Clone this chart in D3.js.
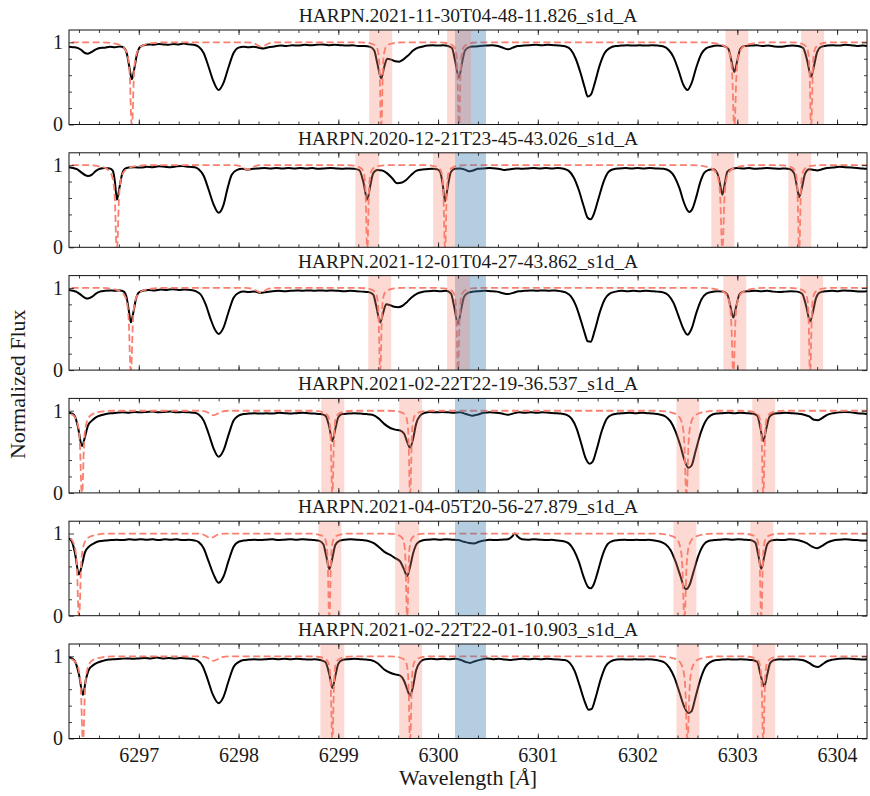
<!DOCTYPE html>
<html>
<head>
<meta charset="utf-8">
<script src="https://cdn.jsdelivr.net/npm/d3@7"></script>
<style>
  body { margin: 0; background: #fff; }
  svg text { font-family: "Liberation Serif", "DejaVu Serif", serif; fill: #1a1a1a; }
</style>
</head>
<body>
<svg id="chart" width="870" height="796"></svg>
<script>
// --- data ---
const titles = [
  "HARPN.2021-11-30T04-48-11.826_s1d_A",
  "HARPN.2020-12-21T23-45-43.026_s1d_A",
  "HARPN.2021-12-01T04-27-43.862_s1d_A",
  "HARPN.2021-02-22T22-19-36.537_s1d_A",
  "HARPN.2021-04-05T20-56-27.879_s1d_A",
  "HARPN.2021-02-22T22-01-10.903_s1d_A"
];

// observed spectra [wavelength, flux]
const spec1 = [[6296.30,0.945],[6296.34,0.94],[6296.38,0.935],[6296.42,0.91],[6296.46,0.87],[6296.49,0.862],[6296.53,0.885],[6296.57,0.915],[6296.61,0.93],[6296.66,0.935],[6296.71,0.945],[6296.76,0.94],[6296.81,0.95],[6296.85,0.935],[6296.88,0.86],[6296.905,0.7],[6296.93,0.55],[6296.955,0.68],[6296.98,0.85],[6297.01,0.94],[6297.05,0.965],[6297.1,0.975],[6297.15,0.97],[6297.2,0.98],[6297.25,0.975],[6297.3,0.97],[6297.35,0.98],[6297.4,0.975],[6297.45,0.985],[6297.5,0.975],[6297.55,0.97],[6297.6,0.945],[6297.65,0.87],[6297.7,0.7],[6297.75,0.52],[6297.8,0.42],[6297.85,0.51],[6297.9,0.7],[6297.95,0.87],[6298.0,0.935],[6298.05,0.945],[6298.1,0.94],[6298.15,0.945],[6298.2,0.935],[6298.25,0.925],[6298.3,0.94],[6298.36,0.95],[6298.42,0.96],[6298.48,0.955],[6298.54,0.965],[6298.6,0.96],[6298.66,0.97],[6298.72,0.965],[6298.78,0.97],[6298.84,0.975],[6298.9,0.965],[6298.96,0.97],[6299.02,0.965],[6299.08,0.96],[6299.14,0.965],[6299.2,0.955],[6299.26,0.955],[6299.32,0.945],[6299.36,0.9],[6299.39,0.75],[6299.43,0.56],[6299.46,0.7],[6299.49,0.8],[6299.53,0.79],[6299.57,0.77],[6299.61,0.765],[6299.65,0.79],[6299.7,0.84],[6299.75,0.9],[6299.8,0.935],[6299.85,0.95],[6299.9,0.96],[6299.95,0.965],[6300.0,0.96],[6300.05,0.965],[6300.1,0.955],[6300.14,0.93],[6300.17,0.78],[6300.21,0.57],[6300.24,0.75],[6300.27,0.9],[6300.31,0.94],[6300.36,0.95],[6300.42,0.955],[6300.48,0.96],[6300.54,0.965],[6300.6,0.955],[6300.66,0.93],[6300.7,0.915],[6300.75,0.935],[6300.8,0.955],[6300.86,0.96],[6300.92,0.965],[6300.98,0.97],[6301.04,0.965],[6301.1,0.97],[6301.16,0.965],[6301.22,0.96],[6301.28,0.95],[6301.33,0.91],[6301.38,0.8],[6301.43,0.62],[6301.47,0.45],[6301.5,0.34],[6301.53,0.36],[6301.57,0.5],[6301.62,0.72],[6301.67,0.87],[6301.72,0.93],[6301.78,0.955],[6301.84,0.96],[6301.9,0.965],[6301.96,0.96],[6302.02,0.965],[6302.08,0.96],[6302.14,0.965],[6302.2,0.96],[6302.26,0.95],[6302.31,0.91],[6302.36,0.82],[6302.41,0.66],[6302.46,0.48],[6302.5,0.42],[6302.54,0.5],[6302.59,0.7],[6302.64,0.86],[6302.69,0.93],[6302.74,0.95],[6302.8,0.96],[6302.86,0.955],[6302.91,0.92],[6302.94,0.78],[6302.97,0.64],[6303.0,0.78],[6303.03,0.92],[6303.07,0.955],[6303.13,0.96],[6303.19,0.965],[6303.25,0.955],[6303.31,0.96],[6303.37,0.95],[6303.43,0.945],[6303.49,0.955],[6303.55,0.96],[6303.61,0.955],[6303.66,0.93],[6303.7,0.78],[6303.74,0.58],[6303.77,0.72],[6303.8,0.88],[6303.84,0.945],[6303.9,0.96],[6303.96,0.965],[6304.02,0.96],[6304.08,0.97],[6304.14,0.965],[6304.2,0.955],[6304.26,0.96],[6304.3,0.955]];

const spec2 = [[6296.30,0.975],[6296.34,0.965],[6296.38,0.95],[6296.42,0.915],[6296.46,0.88],[6296.49,0.868],[6296.53,0.885],[6296.57,0.93],[6296.61,0.955],[6296.66,0.965],[6296.71,0.96],[6296.74,0.93],[6296.76,0.8],[6296.78,0.58],[6296.805,0.72],[6296.83,0.88],[6296.86,0.955],[6296.9,0.97],[6296.96,0.975],[6297.02,0.97],[6297.08,0.98],[6297.14,0.975],[6297.2,0.985],[6297.26,0.98],[6297.32,0.975],[6297.38,0.985],[6297.44,0.99],[6297.5,0.98],[6297.56,0.975],[6297.6,0.95],[6297.65,0.87],[6297.7,0.7],[6297.75,0.52],[6297.8,0.42],[6297.85,0.52],[6297.89,0.72],[6297.93,0.88],[6297.98,0.94],[6298.04,0.955],[6298.09,0.945],[6298.14,0.955],[6298.2,0.96],[6298.26,0.965],[6298.32,0.96],[6298.38,0.965],[6298.44,0.96],[6298.5,0.965],[6298.56,0.96],[6298.62,0.965],[6298.68,0.96],[6298.74,0.965],[6298.8,0.955],[6298.86,0.96],[6298.92,0.965],[6298.98,0.96],[6299.04,0.955],[6299.1,0.96],[6299.16,0.955],[6299.21,0.94],[6299.25,0.8],[6299.29,0.58],[6299.32,0.75],[6299.35,0.9],[6299.39,0.94],[6299.44,0.935],[6299.49,0.9],[6299.54,0.84],[6299.59,0.78],[6299.63,0.785],[6299.68,0.82],[6299.73,0.88],[6299.78,0.93],[6299.83,0.945],[6299.88,0.95],[6299.94,0.955],[6299.99,0.95],[6300.02,0.92],[6300.045,0.78],[6300.07,0.56],[6300.1,0.76],[6300.13,0.92],[6300.17,0.955],[6300.22,0.96],[6300.27,0.945],[6300.31,0.925],[6300.35,0.935],[6300.4,0.955],[6300.46,0.96],[6300.52,0.965],[6300.58,0.96],[6300.63,0.95],[6300.67,0.94],[6300.72,0.95],[6300.78,0.96],[6300.84,0.955],[6300.9,0.96],[6300.96,0.965],[6301.02,0.96],[6301.08,0.965],[6301.14,0.96],[6301.2,0.965],[6301.26,0.955],[6301.31,0.93],[6301.36,0.85],[6301.41,0.7],[6301.46,0.5],[6301.5,0.36],[6301.53,0.34],[6301.56,0.4],[6301.61,0.6],[6301.66,0.8],[6301.71,0.92],[6301.76,0.95],[6301.82,0.96],[6301.88,0.965],[6301.94,0.96],[6302.0,0.965],[6302.06,0.96],[6302.12,0.965],[6302.18,0.96],[6302.26,0.955],[6302.32,0.93],[6302.37,0.86],[6302.42,0.72],[6302.46,0.56],[6302.5,0.45],[6302.52,0.43],[6302.55,0.47],[6302.59,0.62],[6302.63,0.8],[6302.67,0.91],[6302.71,0.94],[6302.76,0.95],[6302.8,0.9],[6302.825,0.78],[6302.85,0.64],[6302.875,0.78],[6302.9,0.92],[6302.95,0.955],[6303.0,0.965],[6303.06,0.96],[6303.12,0.965],[6303.18,0.955],[6303.24,0.96],[6303.3,0.965],[6303.36,0.96],[6303.42,0.955],[6303.48,0.96],[6303.53,0.95],[6303.57,0.9],[6303.6,0.72],[6303.62,0.61],[6303.65,0.74],[6303.68,0.9],[6303.72,0.95],[6303.76,0.945],[6303.8,0.935],[6303.85,0.95],[6303.9,0.965],[6303.96,0.97],[6304.02,0.98],[6304.08,0.975],[6304.14,0.97],[6304.2,0.965],[6304.26,0.96],[6304.3,0.955]];

const spec3 = [[6296.30,0.975],[6296.34,0.965],[6296.38,0.95],[6296.42,0.915],[6296.46,0.88],[6296.49,0.87],[6296.53,0.89],[6296.57,0.93],[6296.61,0.955],[6296.66,0.965],[6296.71,0.97],[6296.76,0.965],[6296.81,0.97],[6296.85,0.955],[6296.88,0.87],[6296.9,0.72],[6296.92,0.58],[6296.945,0.7],[6296.97,0.86],[6297.0,0.945],[6297.05,0.97],[6297.1,0.975],[6297.16,0.97],[6297.22,0.98],[6297.28,0.975],[6297.34,0.985],[6297.4,0.975],[6297.46,0.98],[6297.52,0.975],[6297.57,0.96],[6297.62,0.92],[6297.67,0.8],[6297.72,0.62],[6297.76,0.5],[6297.8,0.44],[6297.85,0.52],[6297.9,0.71],[6297.95,0.88],[6298.0,0.94],[6298.05,0.955],[6298.1,0.95],[6298.16,0.955],[6298.22,0.94],[6298.28,0.95],[6298.34,0.96],[6298.4,0.965],[6298.46,0.96],[6298.52,0.965],[6298.58,0.97],[6298.64,0.965],[6298.7,0.97],[6298.76,0.965],[6298.82,0.97],[6298.88,0.965],[6298.94,0.97],[6299.0,0.965],[6299.06,0.96],[6299.12,0.965],[6299.18,0.96],[6299.24,0.955],[6299.3,0.95],[6299.35,0.92],[6299.38,0.78],[6299.42,0.58],[6299.45,0.7],[6299.48,0.8],[6299.52,0.79],[6299.56,0.77],[6299.6,0.765],[6299.64,0.78],[6299.69,0.83],[6299.74,0.89],[6299.79,0.93],[6299.84,0.95],[6299.9,0.96],[6299.96,0.965],[6300.02,0.96],[6300.08,0.965],[6300.13,0.93],[6300.16,0.78],[6300.2,0.56],[6300.23,0.73],[6300.26,0.89],[6300.3,0.94],[6300.35,0.955],[6300.41,0.96],[6300.47,0.965],[6300.53,0.96],[6300.59,0.955],[6300.65,0.935],[6300.7,0.925],[6300.75,0.94],[6300.81,0.96],[6300.87,0.965],[6300.93,0.97],[6300.99,0.965],[6301.05,0.97],[6301.11,0.965],[6301.17,0.97],[6301.23,0.96],[6301.28,0.945],[6301.33,0.9],[6301.38,0.79],[6301.43,0.61],[6301.47,0.45],[6301.5,0.35],[6301.53,0.345],[6301.57,0.48],[6301.62,0.7],[6301.67,0.86],[6301.72,0.93],[6301.78,0.955],[6301.84,0.965],[6301.9,0.96],[6301.96,0.965],[6302.02,0.96],[6302.08,0.965],[6302.14,0.96],[6302.2,0.955],[6302.26,0.945],[6302.31,0.91],[6302.36,0.82],[6302.41,0.66],[6302.46,0.5],[6302.5,0.43],[6302.54,0.5],[6302.59,0.7],[6302.64,0.86],[6302.69,0.93],[6302.74,0.95],[6302.8,0.96],[6302.86,0.955],[6302.9,0.92],[6302.93,0.78],[6302.96,0.64],[6302.99,0.78],[6303.02,0.92],[6303.06,0.955],[6303.12,0.96],[6303.18,0.965],[6303.24,0.96],[6303.3,0.965],[6303.36,0.955],[6303.42,0.95],[6303.48,0.955],[6303.54,0.96],[6303.6,0.955],[6303.65,0.93],[6303.69,0.78],[6303.73,0.59],[6303.76,0.72],[6303.79,0.88],[6303.83,0.945],[6303.89,0.96],[6303.95,0.965],[6304.01,0.96],[6304.07,0.97],[6304.13,0.965],[6304.19,0.96],[6304.25,0.955],[6304.3,0.96]];

const spec4 = [[6296.30,0.975],[6296.33,0.965],[6296.36,0.93],[6296.39,0.8],[6296.43,0.57],[6296.46,0.68],[6296.49,0.82],[6296.53,0.88],[6296.57,0.92],[6296.62,0.945],[6296.67,0.96],[6296.72,0.97],[6296.78,0.975],[6296.84,0.98],[6296.9,0.975],[6296.96,0.985],[6297.02,0.98],[6297.08,0.985],[6297.14,0.99],[6297.2,0.98],[6297.26,0.985],[6297.32,0.99],[6297.38,0.98],[6297.44,0.985],[6297.5,0.98],[6297.56,0.975],[6297.6,0.955],[6297.65,0.88],[6297.7,0.72],[6297.75,0.54],[6297.8,0.44],[6297.85,0.52],[6297.9,0.71],[6297.95,0.88],[6298.0,0.94],[6298.05,0.96],[6298.1,0.965],[6298.16,0.97],[6298.22,0.965],[6298.28,0.97],[6298.34,0.965],[6298.4,0.975],[6298.46,0.97],[6298.52,0.965],[6298.58,0.97],[6298.64,0.975],[6298.7,0.97],[6298.76,0.965],[6298.82,0.96],[6298.87,0.94],[6298.91,0.8],[6298.94,0.63],[6298.97,0.78],[6299.0,0.92],[6299.04,0.96],[6299.1,0.965],[6299.16,0.97],[6299.22,0.965],[6299.28,0.96],[6299.34,0.95],[6299.4,0.91],[6299.46,0.84],[6299.52,0.79],[6299.57,0.77],[6299.62,0.76],[6299.66,0.72],[6299.69,0.62],[6299.72,0.55],[6299.75,0.66],[6299.78,0.84],[6299.82,0.94],[6299.87,0.975],[6299.92,0.985],[6299.98,0.98],[6300.04,0.985],[6300.1,0.98],[6300.16,0.975],[6300.22,0.98],[6300.28,0.96],[6300.34,0.94],[6300.4,0.955],[6300.46,0.975],[6300.52,0.98],[6300.58,0.975],[6300.64,0.965],[6300.7,0.95],[6300.75,0.965],[6300.81,0.98],[6300.87,0.975],[6300.93,0.98],[6300.99,0.975],[6301.05,0.98],[6301.11,0.975],[6301.17,0.97],[6301.23,0.965],[6301.29,0.95],[6301.34,0.9],[6301.39,0.78],[6301.44,0.58],[6301.48,0.42],[6301.52,0.355],[6301.55,0.38],[6301.59,0.53],[6301.64,0.75],[6301.69,0.9],[6301.74,0.95],[6301.8,0.965],[6301.86,0.97],[6301.92,0.975],[6301.98,0.97],[6302.04,0.975],[6302.1,0.97],[6302.16,0.965],[6302.22,0.955],[6302.28,0.93],[6302.33,0.87],[6302.38,0.75],[6302.43,0.57],[6302.47,0.4],[6302.51,0.305],[6302.54,0.33],[6302.58,0.5],[6302.63,0.72],[6302.68,0.87],[6302.73,0.94],[6302.79,0.965],[6302.85,0.97],[6302.91,0.975],[6302.97,0.97],[6303.03,0.975],[6303.09,0.97],[6303.15,0.965],[6303.2,0.94],[6303.23,0.8],[6303.26,0.63],[6303.29,0.78],[6303.32,0.92],[6303.36,0.96],[6303.42,0.97],[6303.48,0.975],[6303.54,0.97],[6303.6,0.965],[6303.66,0.955],[6303.72,0.93],[6303.77,0.89],[6303.81,0.885],[6303.85,0.91],[6303.9,0.95],[6303.96,0.97],[6304.02,0.98],[6304.08,0.985],[6304.14,0.98],[6304.2,0.97],[6304.26,0.965],[6304.3,0.96]];

const spec5 = [[6296.30,0.94],[6296.33,0.9],[6296.36,0.76],[6296.4,0.5],[6296.43,0.62],[6296.46,0.77],[6296.5,0.84],[6296.55,0.88],[6296.6,0.905],[6296.66,0.915],[6296.72,0.92],[6296.78,0.925],[6296.84,0.92],[6296.9,0.93],[6296.96,0.925],[6297.02,0.93],[6297.08,0.925],[6297.14,0.93],[6297.2,0.92],[6297.26,0.93],[6297.32,0.925],[6297.38,0.93],[6297.44,0.92],[6297.5,0.925],[6297.56,0.915],[6297.6,0.895],[6297.65,0.82],[6297.7,0.66],[6297.75,0.5],[6297.8,0.4],[6297.85,0.48],[6297.9,0.67],[6297.95,0.84],[6298.0,0.9],[6298.05,0.915],[6298.1,0.92],[6298.16,0.925],[6298.22,0.92],[6298.28,0.925],[6298.34,0.93],[6298.4,0.92],[6298.46,0.925],[6298.52,0.93],[6298.58,0.925],[6298.64,0.93],[6298.7,0.925],[6298.76,0.92],[6298.81,0.91],[6298.85,0.87],[6298.88,0.72],[6298.91,0.565],[6298.94,0.7],[6298.97,0.86],[6299.01,0.91],[6299.06,0.925],[6299.12,0.93],[6299.18,0.925],[6299.24,0.92],[6299.3,0.91],[6299.36,0.88],[6299.42,0.82],[6299.47,0.77],[6299.52,0.74],[6299.57,0.7],[6299.62,0.66],[6299.66,0.56],[6299.69,0.48],[6299.72,0.6],[6299.75,0.76],[6299.79,0.88],[6299.84,0.915],[6299.9,0.925],[6299.96,0.93],[6300.02,0.925],[6300.08,0.93],[6300.14,0.925],[6300.2,0.92],[6300.26,0.9],[6300.31,0.885],[6300.36,0.88],[6300.41,0.9],[6300.46,0.915],[6300.52,0.925],[6300.58,0.92],[6300.64,0.925],[6300.7,0.93],[6300.74,0.96],[6300.77,1.0],[6300.8,0.96],[6300.84,0.93],[6300.9,0.925],[6300.96,0.93],[6301.02,0.925],[6301.08,0.92],[6301.14,0.925],[6301.2,0.915],[6301.26,0.905],[6301.31,0.88],[6301.36,0.8],[6301.41,0.66],[6301.46,0.47],[6301.5,0.355],[6301.53,0.333],[6301.56,0.38],[6301.6,0.53],[6301.65,0.74],[6301.7,0.87],[6301.75,0.91],[6301.81,0.92],[6301.87,0.925],[6301.93,0.92],[6301.99,0.925],[6302.05,0.92],[6302.11,0.925],[6302.17,0.915],[6302.23,0.9],[6302.28,0.87],[6302.33,0.8],[6302.38,0.66],[6302.43,0.48],[6302.47,0.34],[6302.49,0.325],[6302.52,0.37],[6302.56,0.53],[6302.61,0.73],[6302.66,0.86],[6302.71,0.91],[6302.77,0.92],[6302.83,0.925],[6302.89,0.93],[6302.95,0.925],[6303.01,0.93],[6303.07,0.925],[6303.13,0.92],[6303.18,0.89],[6303.21,0.74],[6303.24,0.57],[6303.27,0.72],[6303.3,0.87],[6303.34,0.915],[6303.4,0.925],[6303.46,0.92],[6303.52,0.93],[6303.58,0.925],[6303.64,0.91],[6303.7,0.88],[6303.75,0.84],[6303.8,0.82],[6303.85,0.85],[6303.9,0.89],[6303.96,0.915],[6304.02,0.925],[6304.08,0.93],[6304.14,0.925],[6304.2,0.92],[6304.26,0.915],[6304.3,0.915]];

const spec6 = [[6296.30,0.99],[6296.33,0.975],[6296.36,0.94],[6296.4,0.78],[6296.44,0.53],[6296.47,0.72],[6296.5,0.84],[6296.54,0.89],[6296.58,0.92],[6296.64,0.945],[6296.7,0.96],[6296.76,0.965],[6296.82,0.97],[6296.88,0.975],[6296.94,0.97],[6297.0,0.975],[6297.06,0.98],[6297.12,0.975],[6297.18,0.985],[6297.24,0.975],[6297.3,0.98],[6297.36,0.975],[6297.42,0.98],[6297.48,0.975],[6297.54,0.97],[6297.59,0.95],[6297.64,0.88],[6297.69,0.72],[6297.74,0.54],[6297.8,0.43],[6297.85,0.51],[6297.9,0.7],[6297.95,0.87],[6298.0,0.93],[6298.05,0.955],[6298.1,0.96],[6298.16,0.965],[6298.22,0.96],[6298.28,0.965],[6298.34,0.97],[6298.4,0.965],[6298.46,0.97],[6298.52,0.965],[6298.58,0.97],[6298.64,0.965],[6298.7,0.96],[6298.76,0.965],[6298.82,0.955],[6298.87,0.93],[6298.91,0.78],[6298.94,0.615],[6298.97,0.76],[6299.0,0.91],[6299.04,0.955],[6299.1,0.965],[6299.16,0.97],[6299.22,0.965],[6299.28,0.96],[6299.34,0.95],[6299.4,0.91],[6299.46,0.84],[6299.52,0.8],[6299.57,0.78],[6299.62,0.765],[6299.66,0.7],[6299.69,0.6],[6299.72,0.52],[6299.75,0.64],[6299.78,0.83],[6299.82,0.93],[6299.87,0.965],[6299.93,0.97],[6299.99,0.965],[6300.05,0.97],[6300.11,0.965],[6300.17,0.97],[6300.23,0.955],[6300.28,0.93],[6300.32,0.92],[6300.37,0.94],[6300.43,0.96],[6300.49,0.975],[6300.55,0.965],[6300.61,0.97],[6300.67,0.96],[6300.73,0.955],[6300.79,0.965],[6300.85,0.97],[6300.91,0.965],[6300.97,0.97],[6301.03,0.965],[6301.09,0.97],[6301.15,0.965],[6301.21,0.96],[6301.27,0.955],[6301.32,0.92],[6301.37,0.82],[6301.42,0.64],[6301.47,0.45],[6301.51,0.35],[6301.54,0.36],[6301.58,0.5],[6301.63,0.72],[6301.68,0.88],[6301.73,0.94],[6301.79,0.96],[6301.85,0.965],[6301.91,0.96],[6301.97,0.965],[6302.03,0.96],[6302.09,0.965],[6302.15,0.96],[6302.21,0.95],[6302.27,0.925],[6302.32,0.86],[6302.37,0.74],[6302.42,0.56],[6302.47,0.38],[6302.51,0.31],[6302.54,0.33],[6302.58,0.5],[6302.63,0.72],[6302.68,0.87],[6302.73,0.93],[6302.79,0.955],[6302.85,0.96],[6302.91,0.965],[6302.97,0.96],[6303.03,0.965],[6303.09,0.96],[6303.15,0.955],[6303.2,0.93],[6303.23,0.79],[6303.27,0.634],[6303.3,0.78],[6303.33,0.92],[6303.37,0.955],[6303.43,0.965],[6303.49,0.96],[6303.55,0.965],[6303.61,0.96],[6303.67,0.95],[6303.72,0.92],[6303.77,0.88],[6303.81,0.87],[6303.85,0.9],[6303.9,0.94],[6303.96,0.96],[6304.02,0.97],[6304.08,0.975],[6304.14,0.97],[6304.2,0.965],[6304.26,0.96],[6304.3,0.965]];

const spectra = [spec1, spec2, spec3, spec4, spec5, spec6];

// telluric O2 line positions seen in each frame
const tellStrong = [
  [6296.93, 6299.43, 6300.21, 6302.97, 6303.74],
  [6296.78, 6299.29, 6300.07, 6302.85, 6303.62],
  [6296.92, 6299.42, 6300.20, 6302.96, 6303.73],
  [6296.43, 6298.94, 6299.72, 6302.49, 6303.26],
  [6296.40, 6298.91, 6299.69, 6302.47, 6303.24],
  [6296.44, 6298.94, 6299.72, 6302.50, 6303.26]
];
const tellWide = [true, false, false, true, false]; // which lines have the wide profile
const tellWeak = [6298.23, 6298.09, 6298.22, 6297.75, 6297.72, 6297.75];

// telluric line shapes: [offset in A, transmission]
const narrowProfile = [[-0.22,1],[-0.14,0.995],[-0.09,0.98],[-0.06,0.96],[-0.04,0.925],[-0.028,0.86],[-0.02,0.76],[-0.014,0.56],[-0.009,0.28],[-0.005,0.05],[0,0],[0.005,0.05],[0.009,0.28],[0.014,0.56],[0.02,0.76],[0.028,0.86],[0.04,0.925],[0.06,0.96],[0.09,0.98],[0.14,0.995],[0.22,1]];
const wideProfile = [[-0.3,1],[-0.2,0.99],[-0.14,0.975],[-0.1,0.955],[-0.07,0.92],[-0.05,0.87],[-0.035,0.79],[-0.025,0.68],[-0.017,0.48],[-0.01,0.18],[-0.005,0.03],[0,0],[0.005,0.03],[0.01,0.18],[0.017,0.48],[0.025,0.68],[0.035,0.79],[0.05,0.87],[0.07,0.92],[0.1,0.955],[0.14,0.975],[0.2,0.99],[0.3,1]];
const weakProfile = [[-0.15,1],[-0.08,0.99],[-0.04,0.965],[0,0.945],[0.04,0.965],[0.08,0.99],[0.15,1]];

// shaded telluric windows
const tellBands = [
  [[6299.31,6299.54],[6300.09,6300.33],[6302.88,6303.11],[6303.64,6303.87]],
  [[6299.17,6299.41],[6299.95,6300.17],[6302.74,6302.97],[6303.51,6303.74]],
  [[6299.30,6299.53],[6300.09,6300.32],[6302.86,6303.09],[6303.63,6303.86]],
  [[6298.83,6299.06],[6299.61,6299.84],[6302.39,6302.62],[6303.15,6303.38]],
  [[6298.80,6299.03],[6299.57,6299.81],[6302.36,6302.59],[6303.13,6303.36]],
  [[6298.82,6299.06],[6299.61,6299.84],[6302.39,6302.62],[6303.15,6303.38]]
];
const oiBand = [6300.17, 6300.48];

const xTicks = [6297, 6298, 6299, 6300, 6301, 6302, 6303, 6304];
const xMinor = d3.range(6296.4, 6304.31, 0.2);
const yTicks = [0, 1];
const yMinor = [0.2, 0.4, 0.6, 0.8];

// --- layout ---
const left = 69, right = 867;
const top0 = 30, step = 122.8, ph = 94.5;

const svg = d3.select("#chart");
const x = d3.scaleLinear().domain([6296.3, 6304.3]).range([left, right]);
const y = d3.scaleLinear().domain([0, 1.15]).range([ph, 0]);

const line = d3.line().x(d => x(d[0])).y(d => y(d[1])).curve(d3.curveMonotoneX);

function telluricModel(p) {
  let pts = [[6295.8, 1], [6304.8, 1]];
  tellStrong[p].forEach((c, k) => {
    const prof = tellWide[k] ? wideProfile : narrowProfile;
    prof.forEach(q => pts.push([c + q[0], q[1]]));
  });
  weakProfile.forEach(q => pts.push([tellWeak[p] + q[0], q[1]]));
  return pts.sort((a, b) => a[0] - b[0]);
}

titles.forEach((title, p) => {
  const g = svg.append("g").attr("transform", `translate(0,${top0 + p * step})`);

  g.append("clipPath").attr("id", "clip" + p)
    .append("rect").attr("x", left).attr("y", 0).attr("width", right - left).attr("height", ph);

  const plot = g.append("g").attr("clip-path", `url(#clip${p})`);

  plot.append("path")
    .datum(spectra[p])
    .attr("fill", "none")
    .attr("stroke", "#000")
    .attr("stroke-width", 2)
    .attr("stroke-linejoin", "round")
    .attr("d", line);

  plot.append("path")
    .datum(telluricModel(p))
    .attr("fill", "none")
    .attr("stroke", "#fa7f6f")
    .attr("stroke-width", 1.8)
    .attr("stroke-dasharray", "7,3.5")
    .attr("d", line);

  plot.append("rect")
    .attr("x", x(oiBand[0])).attr("width", x(oiBand[1]) - x(oiBand[0]))
    .attr("y", 0).attr("height", ph)
    .attr("fill", "rgba(70,130,180,0.4)");

  plot.selectAll(".tband")
    .data(tellBands[p])
    .join("rect")
    .attr("class", "tband")
    .attr("x", d => x(d[0])).attr("width", d => x(d[1]) - x(d[0]))
    .attr("y", 0).attr("height", ph)
    .attr("fill", "rgba(250,128,114,0.3)");

  // ticks, inward on all four sides
  const last = p === titles.length - 1;
  g.append("g").attr("transform", `translate(0,${ph})`)
    .call(d3.axisBottom(x).tickValues(xTicks).tickSize(-5).tickPadding(9)
      .tickFormat(last ? d3.format("d") : ""));
  g.append("g").attr("transform", `translate(0,${ph})`)
    .call(d3.axisBottom(x).tickValues(xMinor).tickSize(-3).tickFormat(""));
  g.append("g").call(d3.axisTop(x).tickValues(xTicks).tickSize(-5).tickFormat(""));
  g.append("g").call(d3.axisTop(x).tickValues(xMinor).tickSize(-3).tickFormat(""));
  g.append("g").attr("transform", `translate(${left},0)`)
    .call(d3.axisLeft(y).tickValues(yTicks).tickSize(-5).tickPadding(6).tickFormat(d3.format("d")));
  g.append("g").attr("transform", `translate(${left},0)`)
    .call(d3.axisLeft(y).tickValues(yMinor).tickSize(-3).tickFormat(""));
  g.append("g").attr("transform", `translate(${right},0)`)
    .call(d3.axisRight(y).tickValues(yTicks).tickSize(-5).tickFormat(""));
  g.append("g").attr("transform", `translate(${right},0)`)
    .call(d3.axisRight(y).tickValues(yMinor).tickSize(-3).tickFormat(""));

  g.selectAll(".domain").remove();
  g.selectAll(".tick line").attr("stroke", "#111").attr("stroke-width", 0.8);
  g.selectAll(".tick text").attr("font-size", 20).attr("fill", "#1a1a1a")
    .style("font-family", "'Liberation Serif', 'DejaVu Serif', serif");

  g.append("rect")
    .attr("x", left).attr("y", 0).attr("width", right - left).attr("height", ph)
    .attr("fill", "none").attr("stroke", "#111").attr("stroke-width", 1);

  g.append("text")
    .attr("x", (left + right) / 2).attr("y", -8)
    .attr("text-anchor", "middle")
    .attr("font-size", 19.5)
    .text(title);
});

const xl = svg.append("text")
  .attr("x", (left + right) / 2).attr("y", 785)
  .attr("text-anchor", "middle")
  .attr("font-size", 22);
xl.append("tspan").text("Wavelength [");
xl.append("tspan").attr("font-style", "italic").text("Å");
xl.append("tspan").text("]");

svg.append("text")
  .attr("transform", `translate(25,${top0 + (5 * step + ph) / 2}) rotate(-90)`)
  .attr("text-anchor", "middle")
  .attr("font-size", 22)
  .text("Normalized Flux");
</script>
</body>
</html>
